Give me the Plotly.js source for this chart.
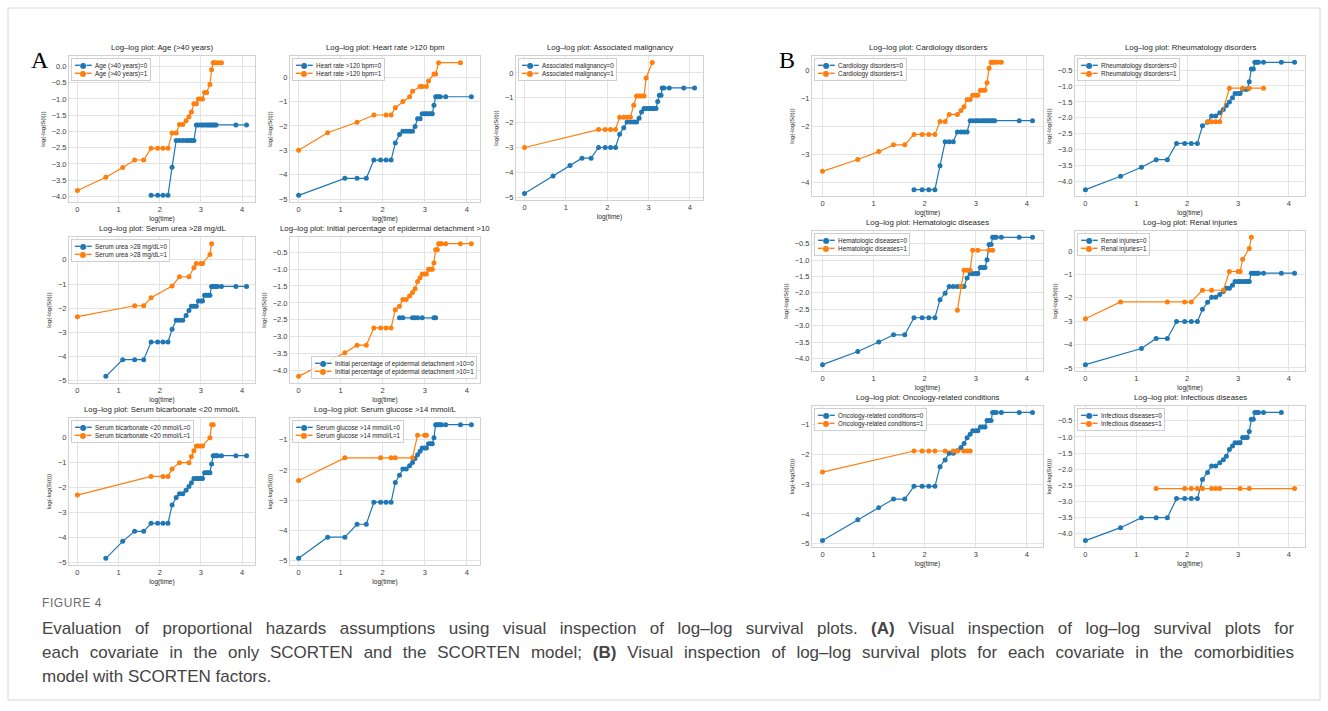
<!DOCTYPE html>
<html>
<head>
<meta charset="utf-8">
<script src="https://cdn.plot.ly/plotly-3.0.1.min.js"></script>
<style>html,body{margin:0;padding:0;background:#fff;}#chart{width:1328px;height:711px;}</style>
</head>
<body>
<div id="chart"></div>
<script>
// ---------------- DATA ----------------
// A1 Age (>40 years)
const ageX0=[1.79,1.95,2.08,2.2,2.3,2.4,2.48,2.56,2.64,2.71,2.77,2.83,2.89,2.94,3.0,3.04,3.09,3.14,3.18,3.22,3.26,3.3,3.33,3.37,3.85,4.11];
const ageY0=[-3.97,-3.97,-3.97,-3.97,-3.1,-2.28,-2.28,-2.28,-2.28,-2.28,-2.28,-2.28,-1.8,-1.8,-1.8,-1.8,-1.8,-1.8,-1.8,-1.8,-1.8,-1.8,-1.8,-1.8,-1.8,-1.8];
const ageX1=[0,0.69,1.1,1.39,1.61,1.79,1.95,2.08,2.2,2.3,2.4,2.48,2.56,2.64,2.71,2.77,2.83,2.89,2.94,3.0,3.04,3.09,3.14,3.22,3.26,3.3,3.33,3.37,3.43,3.5];
const ageY1=[-3.82,-3.41,-3.11,-2.88,-2.88,-2.52,-2.52,-2.52,-2.52,-2.05,-2.05,-1.79,-1.79,-1.67,-1.55,-1.4,-1.15,-1.15,-1.0,-1.0,-1.0,-0.8,-0.8,-0.55,-0.1,0.12,0.12,0.12,0.12,0.12];
// A2 Heart rate >120 bpm
const hrX0=[0,1.1,1.39,1.61,1.79,1.95,2.08,2.2,2.3,2.4,2.48,2.56,2.64,2.71,2.77,2.83,2.89,2.94,3.0,3.04,3.09,3.14,3.18,3.22,3.26,3.3,3.33,3.37,3.5,4.11];
const hrY0=[-4.85,-4.15,-4.15,-4.15,-3.4,-3.4,-3.4,-3.4,-2.7,-2.35,-2.22,-2.22,-2.22,-2.22,-2.02,-1.7,-1.7,-1.5,-1.5,-1.5,-1.5,-1.5,-1.5,-1.15,-0.8,-0.8,-0.8,-0.8,-0.8,-0.8];
const hrX1=[0,0.69,1.39,1.79,2.08,2.2,2.3,2.48,2.64,2.71,2.89,2.94,3.04,3.09,3.22,3.26,3.33,3.85];
const hrY1=[-3.0,-2.28,-1.85,-1.55,-1.55,-1.55,-1.25,-1.0,-0.8,-0.58,-0.38,-0.38,-0.38,-0.15,0.13,0.13,0.6,0.6];
// A3 Associated malignancy
const amX0=[0,0.69,1.1,1.39,1.61,1.79,1.95,2.08,2.2,2.3,2.4,2.48,2.56,2.64,2.71,2.77,2.83,2.89,2.94,3.0,3.04,3.09,3.14,3.18,3.22,3.26,3.3,3.33,3.37,3.5,3.85,4.11];
const amY0=[-4.85,-4.15,-3.72,-3.43,-3.43,-3.0,-3.0,-3.0,-3.0,-2.47,-2.2,-1.97,-1.97,-1.97,-1.97,-1.82,-1.57,-1.43,-1.43,-1.43,-1.43,-1.43,-1.43,-1.43,-1.15,-0.9,-0.9,-0.6,-0.6,-0.6,-0.6,-0.6];
const amX1=[0,1.79,1.95,2.08,2.2,2.3,2.4,2.48,2.56,2.64,2.71,2.77,2.83,2.89,2.94,3.09];
const amY1=[-3.0,-2.28,-2.28,-2.28,-2.28,-1.78,-1.78,-1.78,-1.78,-1.3,-0.93,-0.93,-0.93,-0.93,-0.2,0.42];
// A4 Serum urea >28 mg/dL
const suX0=[0.69,1.1,1.39,1.61,1.79,1.95,2.08,2.2,2.3,2.4,2.48,2.56,2.64,2.71,2.77,2.83,2.89,2.94,3.0,3.04,3.09,3.14,3.18,3.22,3.26,3.3,3.33,3.37,3.4,3.5,3.85,4.11];
const suY0=[-4.82,-4.13,-4.13,-4.13,-3.4,-3.4,-3.4,-3.4,-2.87,-2.5,-2.5,-2.5,-2.3,-2.1,-1.92,-1.92,-1.92,-1.7,-1.7,-1.7,-1.47,-1.47,-1.47,-1.47,-1.1,-1.1,-1.1,-1.1,-1.1,-1.1,-1.1,-1.1];
const suX1=[0,1.39,1.61,1.79,2.3,2.48,2.71,2.83,2.89,3.0,3.04,3.22,3.26];
const suY1=[-2.35,-1.9,-1.9,-1.57,-1.08,-0.7,-0.7,-0.33,-0.15,-0.15,-0.15,0.22,0.67];
// A5 Initial percentage of epidermal detachment >10
const ipX0=[2.4,2.48,2.71,2.77,2.83,2.94,3.22,3.26];
const ipY0=[-2.44,-2.44,-2.44,-2.44,-2.44,-2.44,-2.44,-2.44];
const ipX1=[0,1.1,1.39,1.61,1.79,1.95,2.08,2.2,2.3,2.4,2.48,2.56,2.64,2.71,2.77,2.83,2.89,2.94,3.0,3.04,3.09,3.14,3.18,3.22,3.26,3.3,3.33,3.37,3.4,3.5,3.85,4.11];
const ipY1=[-4.17,-3.47,-3.25,-3.25,-2.74,-2.74,-2.74,-2.74,-2.2,-2.1,-1.9,-1.9,-1.8,-1.69,-1.58,-1.37,-1.26,-1.15,-1.15,-1.15,-1.01,-1.01,-1.01,-0.82,-0.43,-0.43,-0.25,-0.25,-0.25,-0.25,-0.25,-0.25];
// A6 Serum bicarbonate <20 mmol/L
const sbX0=[0.69,1.1,1.39,1.61,1.79,1.95,2.08,2.2,2.3,2.4,2.48,2.56,2.64,2.71,2.77,2.83,2.89,2.94,3.0,3.04,3.09,3.14,3.18,3.22,3.26,3.3,3.33,3.37,3.4,3.5,3.85,4.11];
const sbY0=[-4.83,-4.15,-3.75,-3.75,-3.43,-3.43,-3.43,-3.43,-2.7,-2.4,-2.25,-2.25,-2.1,-1.95,-1.8,-1.63,-1.63,-1.63,-1.63,-1.63,-1.4,-1.4,-1.4,-1.4,-1.05,-0.72,-0.72,-0.72,-0.72,-0.72,-0.72,-0.72];
const sbX1=[0,1.79,2.08,2.2,2.3,2.48,2.71,2.77,2.83,2.89,2.94,3.0,3.04,3.22,3.26,3.3];
const sbY1=[-2.3,-1.55,-1.55,-1.55,-1.25,-1.0,-1.0,-0.75,-0.52,-0.33,-0.33,-0.33,-0.33,0.0,0.52,0.52];
// A7 Serum glucose >14 mmol/L
const sgX0=[0,0.69,1.1,1.39,1.61,1.79,1.95,2.08,2.2,2.3,2.4,2.48,2.56,2.64,2.71,2.77,2.83,2.89,2.94,3.0,3.04,3.09,3.14,3.18,3.22,3.26,3.3,3.33,3.37,3.4,3.5,3.85,4.11];
const sgY0=[-4.93,-4.23,-4.23,-3.8,-3.8,-3.07,-3.07,-3.07,-3.07,-2.42,-2.18,-1.97,-1.97,-1.86,-1.75,-1.62,-1.5,-1.38,-1.27,-1.27,-1.27,-1.13,-1.13,-1.13,-0.93,-0.5,-0.5,-0.5,-0.5,-0.5,-0.5,-0.5,-0.5];
const sgX1=[0,1.1,1.95,2.2,2.3,2.71,2.83,3.0,3.04];
const sgY1=[-2.35,-1.6,-1.6,-1.6,-1.6,-1.6,-0.85,-0.85,-0.85];
// B1 Cardiology disorders
const cdX0=[1.79,1.95,2.08,2.2,2.3,2.4,2.48,2.56,2.64,2.71,2.77,2.83,2.89,2.94,3.0,3.04,3.09,3.14,3.18,3.22,3.26,3.3,3.33,3.37,3.85,4.11];
const cdY0=[-4.25,-4.25,-4.25,-4.25,-3.4,-2.55,-2.55,-2.55,-2.2,-2.2,-2.2,-2.2,-1.8,-1.8,-1.8,-1.8,-1.8,-1.8,-1.8,-1.8,-1.8,-1.8,-1.8,-1.8,-1.8,-1.8];
const cdX1=[0,0.69,1.1,1.39,1.61,1.79,1.95,2.08,2.2,2.3,2.4,2.48,2.64,2.71,2.77,2.83,2.89,2.94,3.0,3.04,3.09,3.14,3.18,3.22,3.26,3.3,3.33,3.37,3.43,3.5];
const cdY1=[-3.6,-3.18,-2.9,-2.66,-2.66,-2.29,-2.29,-2.29,-2.29,-1.83,-1.83,-1.58,-1.58,-1.44,-1.31,-1.05,-1.05,-0.9,-0.9,-0.9,-0.72,-0.72,-0.72,-0.45,0.06,0.27,0.27,0.27,0.27,0.27];
// B2 Rheumatology disorders
const rdX0=[0,0.69,1.1,1.39,1.61,1.79,1.95,2.08,2.2,2.3,2.4,2.48,2.56,2.64,2.71,2.77,2.83,2.89,2.94,3.0,3.04,3.09,3.14,3.18,3.22,3.26,3.3,3.33,3.37,3.4,3.5,3.85,4.11];
const rdY0=[-4.25,-3.83,-3.55,-3.31,-3.31,-2.8,-2.8,-2.8,-2.8,-2.25,-2.14,-1.94,-1.94,-1.84,-1.74,-1.61,-1.5,-1.37,-1.24,-1.24,-1.24,-1.1,-1.1,-1.1,-0.87,-0.47,-0.47,-0.26,-0.26,-0.26,-0.26,-0.26,-0.26];
const rdX1=[2.4,2.48,2.56,2.64,2.83,3.09,3.22,3.5];
const rdY1=[-2.12,-2.12,-2.12,-2.12,-1.07,-1.07,-1.07,-1.07];
// B3 Hematologic diseases
const hdX0=[0,0.69,1.1,1.39,1.61,1.79,1.95,2.08,2.2,2.3,2.4,2.48,2.56,2.64,2.71,2.77,2.83,2.89,2.94,3.0,3.04,3.09,3.14,3.18,3.22,3.26,3.3,3.33,3.37,3.4,3.5,3.85,4.11];
const hdY0=[-4.19,-3.79,-3.5,-3.28,-3.28,-2.76,-2.76,-2.76,-2.76,-2.21,-2.01,-1.81,-1.81,-1.81,-1.81,-1.81,-1.55,-1.41,-1.41,-1.41,-1.41,-1.23,-1.23,-1.23,-0.99,-0.53,-0.53,-0.31,-0.31,-0.31,-0.31,-0.31,-0.31];
const hdX1=[2.64,2.71,2.77,2.83,2.89,2.94,3.04,3.26,3.33];
const hdY1=[-2.53,-1.81,-1.31,-1.31,-1.31,-0.7,-0.7,-0.7,-0.7];
// B4 Renal injuries
const riX0=[0,1.1,1.39,1.61,1.79,1.95,2.08,2.2,2.3,2.4,2.48,2.56,2.64,2.71,2.77,2.83,2.89,2.94,3.0,3.04,3.09,3.14,3.18,3.22,3.26,3.3,3.33,3.37,3.4,3.5,3.85,4.11];
const riY0=[-4.86,-4.17,-3.74,-3.74,-3.02,-3.02,-3.02,-3.02,-2.49,-2.19,-1.98,-1.98,-1.86,-1.73,-1.6,-1.6,-1.47,-1.31,-1.31,-1.31,-1.31,-1.31,-1.31,-1.31,-0.95,-0.95,-0.95,-0.95,-0.95,-0.95,-0.95,-0.95];
const riX1=[0,0.69,1.61,1.95,2.08,2.3,2.48,2.71,2.83,3.0,3.04,3.09,3.22,3.26];
const riY1=[-2.9,-2.18,-2.18,-2.18,-2.18,-1.68,-1.68,-1.68,-0.88,-0.88,-0.88,-0.36,0.1,0.58];
// B5 Oncology-related conditions
const ocX0=[0,0.69,1.1,1.39,1.61,1.79,1.95,2.08,2.2,2.3,2.4,2.48,2.56,2.64,2.71,2.77,2.83,2.89,2.94,3.0,3.04,3.09,3.14,3.18,3.22,3.26,3.3,3.33,3.37,3.4,3.5,3.85,4.11];
const ocY0=[-4.9,-4.2,-3.79,-3.5,-3.5,-3.07,-3.07,-3.07,-3.07,-2.41,-2.18,-1.96,-1.96,-1.87,-1.76,-1.63,-1.43,-1.32,-1.2,-1.2,-1.2,-1.07,-1.07,-1.07,-0.85,-0.85,-0.85,-0.58,-0.58,-0.58,-0.58,-0.58,-0.58];
const ocX1=[0,1.79,1.95,2.08,2.2,2.4,2.56,2.64,2.77,2.83,2.89];
const ocY1=[-2.59,-1.88,-1.88,-1.88,-1.88,-1.88,-1.88,-1.88,-1.88,-1.88,-1.88];
// B6 Infectious diseases
const idX0=[0,0.69,1.1,1.39,1.61,1.79,1.95,2.08,2.2,2.3,2.4,2.48,2.56,2.64,2.71,2.77,2.83,2.89,2.94,3.0,3.04,3.09,3.14,3.18,3.22,3.26,3.3,3.33,3.37,3.4,3.5,3.85];
const idY0=[-4.21,-3.81,-3.5,-3.5,-3.5,-2.91,-2.91,-2.91,-2.91,-2.32,-2.1,-1.9,-1.9,-1.8,-1.71,-1.6,-1.39,-1.28,-1.18,-1.18,-1.18,-1.02,-1.02,-1.02,-0.83,-0.45,-0.45,-0.24,-0.24,-0.24,-0.24,-0.24];
const idX1=[1.39,1.95,2.08,2.2,2.3,2.48,2.56,2.64,3.04,3.22,4.11];
const idY1=[-2.6,-2.6,-2.6,-2.6,-2.6,-2.6,-2.6,-2.6,-2.6,-2.6,-2.6];

const xTicks=[0,1,2,3,4];
const captionLines=[
 "Evaluation of proportional hazards assumptions using visual inspection of log–log survival plots. <b>(A)</b> Visual inspection of log–log survival plots for",
 "each covariate in the only SCORTEN and the SCORTEN model; <b>(B)</b> Visual inspection of log–log survival plots for each covariate in the comorbidities",
 "model with SCORTEN factors."
];

// ---------------- LAYOUT CONFIG ----------------
const W=1328,H=711;
const BLUE='#1f77b4',ORANGE='#ff7f0e';
const panels=[
 {t:'Age (>40 years)',x0:ageX0,y0:ageY0,x1:ageX1,y1:ageY1,box:[69,255,56,202],dt:0.5},
 {t:'Heart rate >120 bpm',x0:hrX0,y0:hrY0,x1:hrX1,y1:hrY1,box:[290,480,56,202],dt:1},
 {t:'Associated malignancy',x0:amX0,y0:amY0,x1:amX1,y1:amY1,box:[516,703,56,200],dt:1},
 {t:'Serum urea >28 mg/dL',x0:suX0,y0:suY0,x1:suX1,y1:suY1,box:[69,255,237,383],dt:1},
 {t:'Initial percentage of epidermal detachment >10',x0:ipX0,y0:ipY0,x1:ipX1,y1:ipY1,box:[290,480,237,383],dt:0.5,lr:true},
 {t:'Serum bicarbonate <20 mmol/L',x0:sbX0,y0:sbY0,x1:sbX1,y1:sbY1,box:[69,255,418,565],dt:1},
 {t:'Serum glucose >14 mmol/L',x0:sgX0,y0:sgY0,x1:sgX1,y1:sgY1,box:[290,480,418,565],dt:1},
 {t:'Cardiology disorders',x0:cdX0,y0:cdY0,x1:cdX1,y1:cdY1,box:[812,1043,56,196],dt:1},
 {t:'Rheumatology disorders',x0:rdX0,y0:rdY0,x1:rdX1,y1:rdY1,box:[1075,1305,56,196],dt:0.5},
 {t:'Hematologic diseases',x0:hdX0,y0:hdY0,x1:hdX1,y1:hdY1,box:[812,1043,231,371],dt:0.5},
 {t:'Renal injuries',x0:riX0,y0:riY0,x1:riX1,y1:riY1,box:[1075,1305,231,371],dt:1},
 {t:'Oncology-related conditions',x0:ocX0,y0:ocY0,x1:ocX1,y1:ocY1,box:[812,1043,406,547],dt:1},
 {t:'Infectious diseases',x0:idX0,y0:idY0,x1:idX1,y1:idY1,box:[1075,1305,406,547],dt:0.5}
];

function padRange(arrs){
  let mn=Infinity,mx=-Infinity;
  arrs.forEach(a=>a.forEach(v=>{if(v<mn)mn=v;if(v>mx)mx=v;}));
  const p=(mx-mn)*0.05; return [mn-p,mx+p];
}

const FONT='Liberation Sans, Arial, sans-serif';
const traces=[];
const layout={
  width:W,height:H,margin:{l:0,r:0,t:0,b:0},
  paper_bgcolor:'#fff',plot_bgcolor:'#fff',showlegend:false,
  font:{family:FONT,color:'#262626'},
  annotations:[],shapes:[]
};
function sym(c){return '<span style="font-family:DejaVu Sans;font-size:8px;color:'+c+'">━●━</span>\u00a0\u00a0';}

panels.forEach((p,i)=>{
  const k=i+1, s=(k===1?'':String(k));
  const [l,r,t,b]=p.box;
  [[p.x0,p.y0,BLUE,'0'],[p.x1,p.y1,ORANGE,'1']].forEach(([xs,ys,c,v])=>{
    traces.push({type:'scatter',mode:'lines+markers',x:xs,y:ys,
      xaxis:'x'+s,yaxis:'y'+s,name:p.t+'='+v,showlegend:false,
      line:{color:c,width:1.2},marker:{color:c,size:5},cliponaxis:false});
  });
  layout['xaxis'+s]={domain:[l/W,r/W],anchor:'y'+s,range:padRange([p.x0,p.x1]),
    tickvals:xTicks,ticks:'',showgrid:true,gridcolor:'#e4e4e4',gridwidth:1,zeroline:false,
    showline:true,mirror:true,linecolor:'#d2d2d2',linewidth:1,
    tickfont:{size:7.5,color:'#3c3c3c'},
    title:{text:'log(time)',font:{size:6.5,color:'#262626'},standoff:3}};
  layout['yaxis'+s]={domain:[1-b/H,1-t/H],anchor:'x'+s,range:padRange([p.y0,p.y1]),
    dtick:p.dt,tick0:0,tickformat:(p.dt<1?'.1f':'d'),ticks:'',showgrid:true,gridcolor:'#e4e4e4',gridwidth:1,zeroline:false,
    showline:true,mirror:true,linecolor:'#d2d2d2',linewidth:1,
    tickfont:{size:7.5,color:'#3c3c3c'},
    title:{text:'log(-log(S(t)))',font:{size:6,color:'#262626'},standoff:5}};
  // subplot title
  layout.annotations.push({xref:'paper',yref:'paper',x:(l+r)/2/W,y:1-(t-2)/H,xanchor:'center',yanchor:'bottom',
    showarrow:false,text:'Log–log plot: '+p.t,font:{size:7.8,color:'#262626',family:FONT}});
  // legend box
  const ltxt=sym(BLUE)+p.t+'=0<br>'+sym(ORANGE)+p.t+'=1';
  const leg={xref:'paper',yref:'paper',showarrow:false,align:'left',text:ltxt,
    font:{size:6.3,color:'#262626',family:FONT},bgcolor:'rgba(255,255,255,0.85)',
    bordercolor:'#cfcfcf',borderwidth:1,borderpad:2};
  if(p.lr){Object.assign(leg,{x:(r-3)/W,y:1-(b-4)/H,xanchor:'right',yanchor:'bottom'});}
  else{Object.assign(leg,{x:(l+1.5)/W,y:1-(t+2)/H,xanchor:'left',yanchor:'top'});}
  layout.annotations.push(leg);
});

// panel labels
layout.annotations.push({xref:'paper',yref:'paper',x:40/W,y:1-60/H,xanchor:'center',yanchor:'middle',showarrow:false,
  text:'A',font:{family:'Liberation Serif, Times New Roman, serif',size:24,color:'#000'}});
layout.annotations.push({xref:'paper',yref:'paper',x:787/W,y:1-60/H,xanchor:'center',yanchor:'middle',showarrow:false,
  text:'B',font:{family:'Liberation Serif, Times New Roman, serif',size:24,color:'#000'}});
// caption
layout.annotations.push({xref:'paper',yref:'paper',x:40/W,y:1-603/H,xanchor:'left',yanchor:'middle',showarrow:false,
  text:'<span style="letter-spacing:0.6px">FIGURE 4</span>',font:{family:FONT,size:12,color:'#6b6b6b'}});
const ctx=document.createElement('canvas').getContext('2d');
function lineWidth(txt){
  let w=0; const parts=txt.split(/(<b>.*?<\/b>)/);
  parts.forEach(pt=>{
    if(pt.startsWith('<b>')){ctx.font='bold 17px "Liberation Sans"';w+=ctx.measureText(pt.replace(/<\/?b>/g,'')).width;}
    else if(pt){ctx.font='17px "Liberation Sans"';w+=ctx.measureText(pt).width;}
  });
  return w;
}
captionLines.forEach((txt,j)=>{
  let out=txt;
  if(j<captionLines.length-1){
    const spaces=(txt.replace(/<\/?b>/g,'').match(/ /g)||[]).length;
    const ws=Math.max(0,(1252-lineWidth(txt))/spaces);
    out='<span style="word-spacing:'+ws.toFixed(2)+'px">'+txt+'</span>';
  }
  layout.annotations.push({xref:'paper',yref:'paper',x:40/W,y:1-(628+24*j)/H,xanchor:'left',yanchor:'middle',showarrow:false,
    align:'left',text:out,font:{family:FONT,size:17,color:'#444'}});
});
// frame
layout.shapes.push({type:'rect',xref:'paper',yref:'paper',x0:8/W,x1:1320/W,y0:1-700/H,y1:1-8/H,
  line:{color:'#d6d6d6',width:1},fillcolor:'rgba(0,0,0,0)',layer:'below'});

Plotly.newPlot('chart',traces,layout,{displayModeBar:false,staticPlot:true});
</script>
</body>
</html>
